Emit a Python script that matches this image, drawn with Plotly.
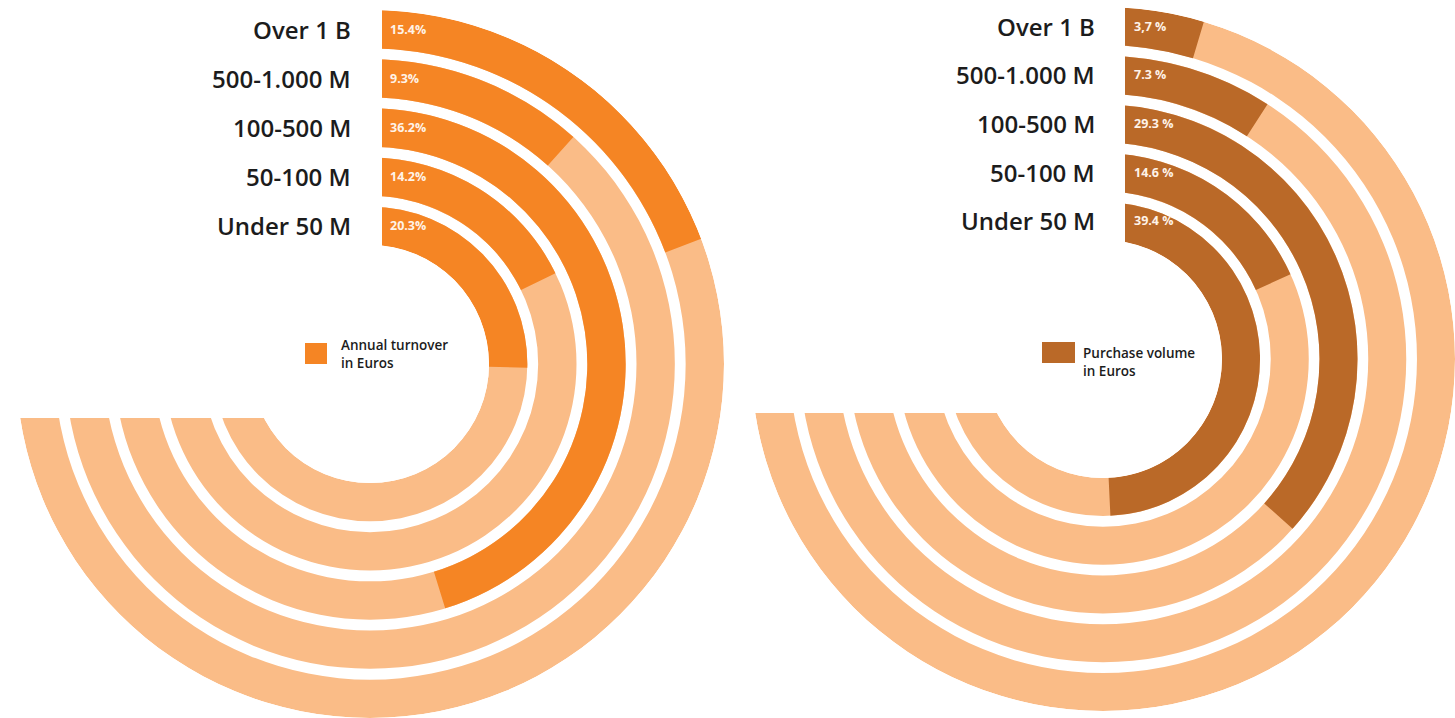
import plotly.graph_objects as go

# Company size classes, listed from the innermost ring outward
size_classes = ["Under 50 M", "50-100 M", "100-500 M", "500-1.000 M", "Over 1 B"]

# Share of companies (%) per size class
turnover_share = [20.3, 14.2, 36.2, 9.3, 15.4]
turnover_labels = ["20.3%", "14.2%", "36.2%", "9.3%", "15.4%"]

purchase_share = [39.4, 14.6, 29.3, 7.3, 3.7]
purchase_labels = ["39.4 %", "14.6 %", "29.3 %", "7.3 %", "3,7 %"]

legend_titles = ["Annual turnover<br>in Euros", "Purchase volume<br>in Euros"]

W, H = 1455, 718
SCALE_MAX = 60.0     # share (%) that fills the whole track
TRACK_SPAN = 270.0   # degrees covered by the background track
BAND = 0.78          # radial thickness of one ring (ring pitch = 1)

FONT = "Open Sans"
TEXT_DARK = "#1c1c1c"
TRACK_COLOR = "#FABC87"

panels = [
    dict(values=turnover_share, texts=turnover_labels, legend=legend_titles[0],
         color="#F58524", cx=370, cy=364, radius=354, hole=119,
         cut_x=382, cut_y=418, mask_x0=0, label_x=353, pct_x=388,
         swatch=(305, 343, 327, 364), legend_x=339, legend_y=354),
    dict(values=purchase_share, texts=purchase_labels, legend=legend_titles[1],
         color="#BA6928", cx=1103, cy=359, radius=352, hole=119,
         cut_x=1125, cut_y=413, mask_x0=735, label_x=1097, pct_x=1132,
         swatch=(1042, 342, 1075, 363), legend_x=1081, legend_y=362),
]


def fx(px):
    return px / W


def fy(py):
    return 1 - py / H


n = len(size_classes)
ring_base = list(range(n))
rmax = n - 1 + BAND

fig = go.Figure()
shapes, annotations = [], []
layout_polars = {}

for i, p in enumerate(panels):
    sub = "polar" if i == 0 else f"polar{i + 1}"
    angles = [v / SCALE_MAX * TRACK_SPAN for v in p["values"]]

    # background track of every ring
    fig.add_trace(go.Barpolar(
        subplot=sub, base=ring_base, r=[BAND] * n,
        theta=[TRACK_SPAN / 2] * n, width=[TRACK_SPAN] * n,
        marker=dict(color=TRACK_COLOR, line=dict(width=0)),
        hoverinfo="skip", showlegend=False))

    # value arcs
    fig.add_trace(go.Barpolar(
        subplot=sub, base=ring_base, r=[BAND] * n,
        theta=[a / 2 for a in angles], width=angles,
        marker=dict(color=p["color"], line=dict(width=0)),
        customdata=p["values"], text=size_classes,
        hovertemplate="%{text}: %{customdata}%<extra></extra>",
        showlegend=False))

    cx, cy, R, hole = p["cx"], p["cy"], p["radius"], p["hole"]
    layout_polars[sub] = dict(
        domain=dict(x=[max(0.0, fx(cx - R)), min(1.0, fx(cx + R))],
                    y=[max(0.0, fy(cy + R)), min(1.0, fy(cy - R))]),
        hole=hole / R, bgcolor="white", barmode="overlay",
        radialaxis=dict(range=[0, rmax], showgrid=False, showline=False,
                        showticklabels=False, ticks=""),
        angularaxis=dict(rotation=90, direction="clockwise", showgrid=False,
                         showline=False, showticklabels=False, ticks=""),
    )

    # straight cut of the ring ends (top start and left end)
    shapes.append(dict(type="rect", xref="paper", yref="paper", layer="above",
                       x0=fx(p["mask_x0"]), x1=fx(p["cut_x"]),
                       y0=fy(p["cut_y"]), y1=1.0,
                       fillcolor="white", line=dict(width=0)))

    # legend swatch and caption
    sx0, sy0, sx1, sy1 = p["swatch"]
    shapes.append(dict(type="rect", xref="paper", yref="paper", layer="above",
                       x0=fx(sx0), x1=fx(sx1), y0=fy(sy1), y1=fy(sy0),
                       fillcolor=p["color"], line=dict(width=0)))
    annotations.append(dict(
        xref="paper", yref="paper", x=fx(p["legend_x"]), y=fy(p["legend_y"]),
        xanchor="left", yanchor="middle", align="left", showarrow=False,
        text=p["legend"],
        font=dict(family=FONT, size=13.5, color=TEXT_DARK, weight=600)))

    # ring labels at the top of each ring
    ppu = (R - hole) / rmax
    for k in range(n):
        yc = cy - (hole + (k + BAND / 2) * ppu)
        annotations.append(dict(
            xref="paper", yref="paper", x=fx(p["label_x"]), y=fy(yc),
            xanchor="right", yanchor="middle", showarrow=False,
            text=size_classes[k],
            font=dict(family=FONT, size=24, color=TEXT_DARK, weight=600)))
        annotations.append(dict(
            xref="paper", yref="paper", x=fx(p["pct_x"]), y=fy(yc),
            xanchor="left", yanchor="middle", showarrow=False,
            text=p["texts"][k],
            font=dict(family=FONT, size=12.5, color="#fff3e8", weight=700)))

fig.update_layout(
    template="none",
    width=W, height=H,
    margin=dict(l=0, r=0, t=0, b=0),
    paper_bgcolor="white",
    showlegend=False,
    shapes=shapes,
    annotations=annotations,
    **layout_polars,
)

fig.write_html("out.html")
